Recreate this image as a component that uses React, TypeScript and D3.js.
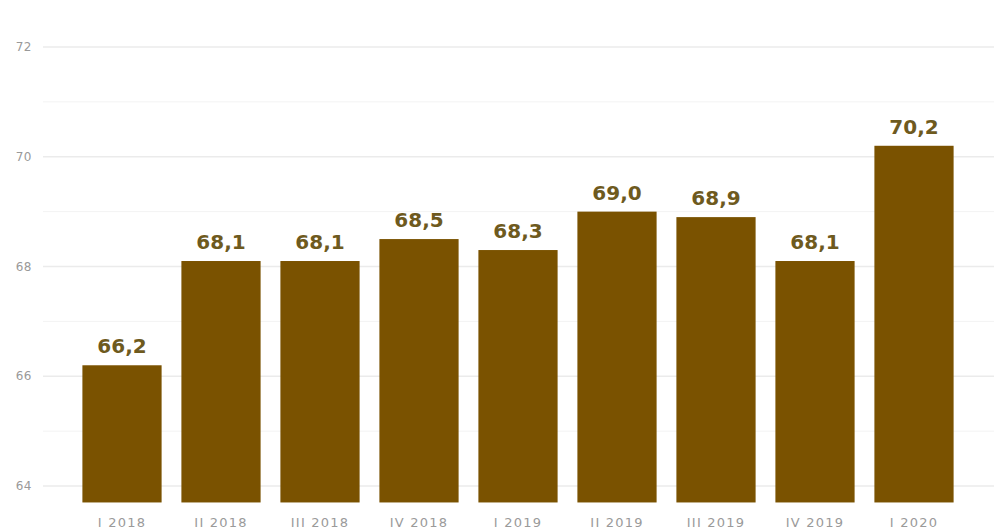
import React from "react";
import * as d3 from "d3";

const categories = ["I 2018", "II 2018", "III 2018", "IV 2018", "I 2019", "II 2019", "III 2019", "IV 2019", "I 2020"];
const values = [66.2, 68.1, 68.1, 68.5, 68.3, 69.0, 68.9, 68.1, 70.2];
const majorTicks = [64, 66, 68, 70, 72];
const minorTicks = [65, 67, 69, 71];

const W = 994;
const H = 532;

export default function App() {
  const x = d3.scaleBand<string>().domain(categories).range([72.5, 963.5]).paddingInner(0.2).paddingOuter(0.1);
  const y = d3.scaleLinear().domain([64, 72]).range([486, 47]);
  const base = y(63.7);
  const fmt = (v: number) => v.toFixed(1).replace(".", ",");
  return (
    <svg width={W} height={H} style={{ position: "absolute", left: 0, top: 0, background: "#fff" }} fontFamily="'DejaVu Sans', sans-serif">
      {minorTicks.map((t) => (
        <line key={"m" + t} x1={43} x2={W} y1={y(t)} y2={y(t)} stroke="#f3f3f3" strokeWidth={1} />
      ))}
      {majorTicks.map((t) => (
        <g key={t}>
          <line x1={43} x2={W} y1={y(t)} y2={y(t)} stroke="#ebebeb" strokeWidth={1.5} />
          <text x={32} y={y(t)} dy="0.35em" textAnchor="end" fontSize={12} letterSpacing={0.5} fill="#999">{t}</text>
        </g>
      ))}
      {categories.map((c, i) => (
        <g key={c}>
          <rect x={x(c)!} y={y(values[i])} width={x.bandwidth()} height={base - y(values[i])} fill="#7a5200" />
          <text x={x(c)! + x.bandwidth() / 2} y={y(values[i]) - 12} textAnchor="middle" fontSize={20} fontWeight="bold" fill="#6e5a1e">{fmt(values[i])}</text>
          <text x={x(c)! + x.bandwidth() / 2} y={527} textAnchor="middle" fontSize={13} letterSpacing={1.2} fill="#9a9a9a">{c}</text>
        </g>
      ))}
    </svg>
  );
}
